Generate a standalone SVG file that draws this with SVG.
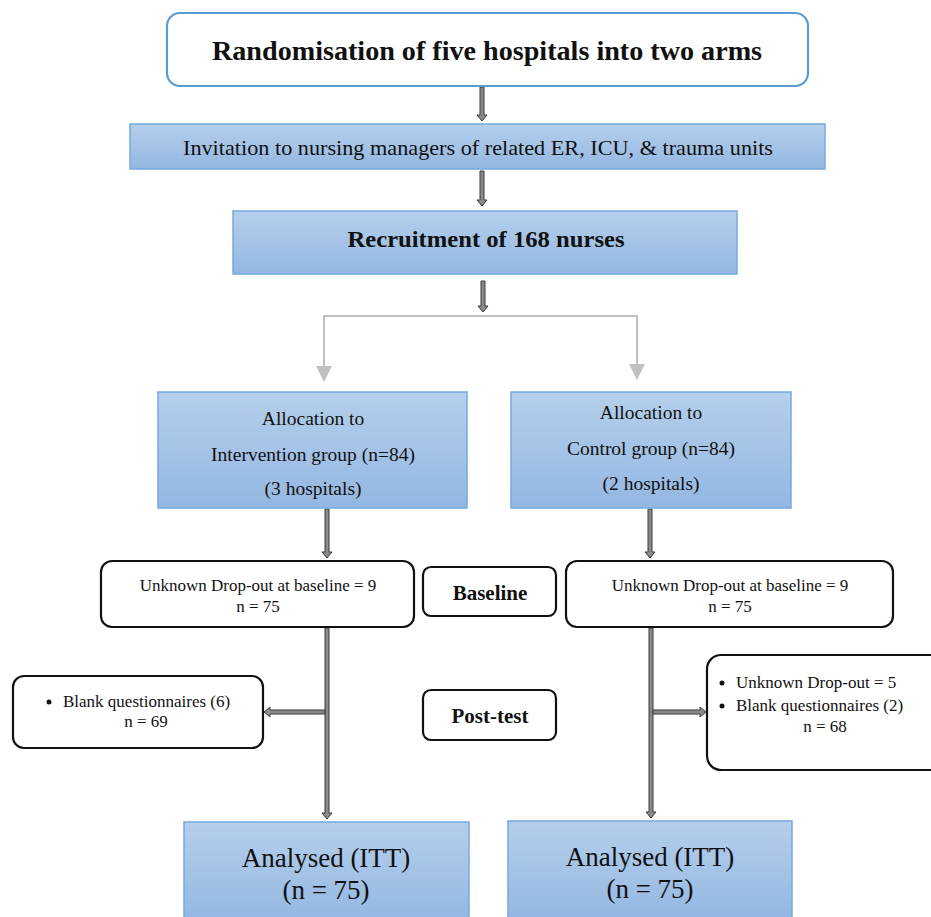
<svg xmlns="http://www.w3.org/2000/svg" width="931" height="917" viewBox="0 0 931 917">
<defs>
<linearGradient id="blue" x1="0" y1="0" x2="0" y2="1">
<stop offset="0" stop-color="#b5cfeb"/>
<stop offset="1" stop-color="#93b7e2"/>
</linearGradient>
<style>
.bbox{fill:url(#blue);stroke:#74abe0;stroke-width:1.5}
.rbox{fill:#fff;stroke:#111;stroke-width:2.2}
.top{fill:#fff;stroke:#5b9bd5;stroke-width:2.2}
.t{font-family:"Liberation Serif","Times New Roman",serif;fill:#111;text-anchor:middle}
.tl{font-family:"Liberation Serif","Times New Roman",serif;fill:#111}
.b{font-weight:bold}
.arr{fill:#8a8a8a;stroke:#3a3a3a;stroke-width:1}
.gray{fill:none;stroke:#c0c0c0;stroke-width:2}
.gh{fill:#c0c0c0}
</style>
</defs>
<rect width="931" height="917" fill="#fff"/>
<g id="connectors">
<path class="arr" d="M480,87 L484,87 L484,115 L487,115 L482,121 L477,115 L480,115 Z"/>
<path class="arr" d="M480,171 L484,171 L484,200 L487,200 L482,206 L477,200 L480,200 Z"/>
<path class="arr" d="M481,281 L485,281 L485,306 L488,306 L483,312 L478,306 L481,306 Z"/>
<path class="gray" d="M324,368 L324,316 L637,316 L637,366"/>
<path class="gh" d="M316,366 L332,366 L324,382 Z"/>
<path class="gh" d="M629,364 L645,364 L637,380 Z"/>
<path class="arr" d="M325,509 L329,509 L329,552 L332,552 L327,558 L322,552 L325,552 Z"/>
<path class="arr" d="M648,509 L652,509 L652,552 L655,552 L650,558 L645,552 L648,552 Z"/>
<path class="arr" d="M325,628 L329,628 L329,813 L332,813 L327,819 L322,813 L325,813 Z"/>
<path class="arr" d="M649,628 L653,628 L653,812 L656,812 L651,818 L646,812 L649,812 Z"/>
<path class="arr" d="M325,710 L325,714 L270,714 L270,717 L264,712 L270,707 L270,710 Z"/>
<path class="arr" d="M653,710 L700,710 L700,707 L706,712 L700,717 L700,714 L653,714 Z"/>
</g>
<g id="randomisation">
<rect class="top" x="167" y="13" width="641" height="73" rx="13"/>
<text class="t b" x="487" y="60" font-size="27" textLength="550" lengthAdjust="spacingAndGlyphs">Randomisation of five hospitals into two arms</text>
</g>
<g id="invitation">
<rect class="bbox" x="130" y="124" width="695" height="45"/>
<text class="t" x="478" y="155" font-size="22" textLength="590" lengthAdjust="spacingAndGlyphs">Invitation to nursing managers of related ER, ICU, &amp; trauma units</text>
</g>
<g id="recruitment">
<rect class="bbox" x="233" y="211" width="504" height="63"/>
<text class="t b" x="486" y="247" font-size="23" textLength="277" lengthAdjust="spacingAndGlyphs">Recruitment of 168 nurses</text>
</g>
<g id="alloc-intervention">
<rect class="bbox" x="158" y="392" width="309" height="116"/>
<text class="t" x="313" y="425" font-size="19.5">Allocation to</text>
<text class="t" x="313" y="461" font-size="19.5">Intervention group (n=84)</text>
<text class="t" x="313" y="495" font-size="19.5">(3 hospitals)</text>
</g>
<g id="alloc-control">
<rect class="bbox" x="511" y="392" width="280" height="116"/>
<text class="t" x="651" y="419" font-size="19.5">Allocation to</text>
<text class="t" x="651" y="455" font-size="19.5">Control group (n=84)</text>
<text class="t" x="651" y="490" font-size="19.5">(2 hospitals)</text>
</g>
<g id="baseline-left">
<rect class="rbox" x="101" y="561" width="313" height="66" rx="11"/>
<text class="t" x="258" y="591" font-size="17">Unknown Drop-out at baseline = 9</text>
<text class="t" x="258" y="612" font-size="17">n = 75</text>
</g>
<g id="baseline-label">
<rect class="rbox" x="423" y="567" width="133" height="49" rx="8"/>
<text class="t b" x="490" y="600" font-size="21">Baseline</text>
</g>
<g id="baseline-right">
<rect class="rbox" x="566" y="561" width="327" height="66" rx="11"/>
<text class="t" x="730" y="591" font-size="17">Unknown Drop-out at baseline = 9</text>
<text class="t" x="730" y="612" font-size="17">n = 75</text>
</g>
<g id="posttest-left">
<rect class="rbox" x="13" y="676" width="250" height="72" rx="11"/>
<circle cx="49" cy="702" r="2.5" fill="#111"/>
<text class="tl" x="63" y="707" font-size="17">Blank questionnaires (6)</text>
<text class="t" x="146" y="727" font-size="17">n = 69</text>
</g>
<g id="posttest-label">
<rect class="rbox" x="423" y="690" width="133" height="50" rx="8"/>
<text class="t b" x="490" y="723" font-size="21">Post-test</text>
</g>
<g id="posttest-right">
<rect class="rbox" x="707" y="655" width="240" height="115" rx="14"/>
<circle cx="722" cy="683" r="2.5" fill="#111"/>
<text class="tl" x="736" y="688" font-size="17">Unknown Drop-out = 5</text>
<circle cx="722" cy="706" r="2.5" fill="#111"/>
<text class="tl" x="736" y="711" font-size="17">Blank questionnaires (2)</text>
<text class="t" x="825" y="732" font-size="17">n = 68</text>
</g>
<g id="analysed-left">
<rect class="bbox" x="184" y="822" width="285" height="100"/>
<text class="t" x="326" y="867" font-size="27">Analysed (ITT)</text>
<text class="t" x="326" y="899" font-size="27">(n = 75)</text>
</g>
<g id="analysed-right">
<rect class="bbox" x="508" y="821" width="284" height="100"/>
<text class="t" x="650" y="866" font-size="27">Analysed (ITT)</text>
<text class="t" x="650" y="898" font-size="27">(n = 75)</text>
</g>
</svg>
